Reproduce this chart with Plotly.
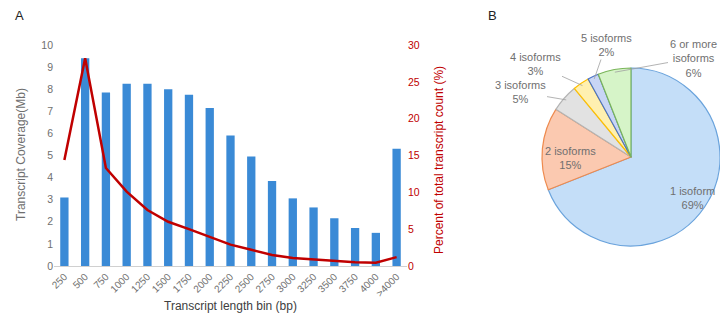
import math
import plotly.graph_objects as go

bins = ["250", "500", "750", "1000", "1250", "1500", "1750", "2000", "2250",
        "2500", "2750", "3000", "3250", "3500", "3750", "4000", ">4000"]
coverage_mb = [3.1, 9.4, 7.85, 8.25, 8.25, 8.0, 7.75, 7.15, 5.9,
               4.95, 3.85, 3.06, 2.65, 2.16, 1.72, 1.5, 5.3]
percent_count = [14.4, 28.2, 13.3, 10.1, 7.6, 6.0, 5.0, 3.9, 2.9,
                 2.2, 1.5, 1.1, 0.9, 0.65, 0.5, 0.45, 1.2]

iso_labels = ["1 isoform", "2 isoforms", "3 isoforms", "4 isoforms", "5 isoforms", "6 or more<br>isoforms"]
iso_values = [69, 15, 5, 3, 2, 6]
iso_fill = ["#c4def8", "#fbc9b0", "#e2e2e2", "#fff0b0", "#c8d5f5", "#d6f4c8"]
iso_line = ["#6aa3dc", "#ee8a4e", "#b4b4b4", "#ffc000", "#4a72c4", "#7ab55a"]

# page body has an 8px margin: work in window pixels and convert
OFF = 8
W, H = 728 - 2 * OFF, 321 - 2 * OFF


def px(x):
    return (x - OFF) / W


def py(y):
    return 1 - (y - OFF) / H


GRAY = "#6f6f6f"
RED = "#c00000"

fig = go.Figure()
fig.add_trace(go.Bar(x=bins, y=coverage_mb, marker=dict(color="#3a8ad6", line=dict(width=0)),
                     yaxis="y", showlegend=False))
fig.add_trace(go.Scatter(x=bins, y=percent_count, mode="lines", line=dict(color=RED, width=2.5),
                         yaxis="y2", showlegend=False))

# pie geometry in window pixels
cx, cy, r = 631, 157, 89
fig.add_trace(go.Pie(values=iso_values, labels=iso_labels, sort=False, direction="clockwise",
                     rotation=0, textinfo="none", hoverinfo="label+percent",
                     marker=dict(colors=iso_fill, line=dict(color=iso_line, width=1.2)),
                     domain=dict(x=[px(cx - r), min(1, px(cx + r))],
                                 y=[py(cy + r), py(cy - r)]),
                     showlegend=False))

fig.update_layout(
    width=W, height=H, margin=dict(l=0, r=0, t=0, b=0),
    paper_bgcolor="white", plot_bgcolor="white",
    font=dict(family="Liberation Sans, Arial, sans-serif", size=10, color=GRAY),
    bargap=0.6,
    xaxis=dict(domain=[px(54), px(407)], tickangle=-45, showline=True, linecolor="#d0d0d0",
               ticks="", showgrid=False, tickfont=dict(size=10, color=GRAY), automargin=False),
    yaxis=dict(domain=[py(266), py(45)], range=[0, 10], dtick=1, showgrid=False,
               zeroline=False, tickfont=dict(size=10.5, color=GRAY), automargin=False),
    yaxis2=dict(overlaying="y", side="right", range=[0, 30], dtick=5, showgrid=False,
                zeroline=False, tickfont=dict(size=10.5, color=RED), automargin=False),
)

ann = [
    dict(x=px(19), y=py(15), text="A", showarrow=False, font=dict(size=13, color="#222")),
    dict(x=px(492), y=py(15), text="B", showarrow=False, font=dict(size=13, color="#222")),
    dict(x=px(21), y=py(155), text="Transcript Coverage(Mb)", textangle=-90, showarrow=False,
         font=dict(size=12, color=GRAY)),
    dict(x=px(439), y=py(160), text="Percent of total transcript count (%)", textangle=-90,
         showarrow=False, font=dict(size=12, color=RED)),
    dict(x=px(230), y=py(306), text="Transcript length bin (bp)", showarrow=False,
         font=dict(size=12, color="#404040")),
]

# slice mid angles (clockwise from 12 o'clock)
total = sum(iso_values)
cum = 0
mids = []
for v in iso_values:
    mids.append((cum + v / 2) / total * 2 * math.pi)
    cum += v


def edge(i, f=0.97):
    a = mids[i]
    return cx + r * f * math.sin(a), cy - r * f * math.cos(a)


# outside labels with leader lines: text centre (window px)
outside = {2: (520, 92), 3: (535, 64), 4: (606, 45), 5: (693, 58)}
for i, (tx, ty) in outside.items():
    ex, ey = edge(i)
    pct = f"{round(iso_values[i] / total * 100)}%"
    ann.append(dict(x=px(ex), y=py(ey), text=f"{iso_labels[i]}<br>{pct}", showarrow=True,
                    arrowhead=0, arrowwidth=0.8, arrowcolor="#a0a0a0", ax=tx - ex, ay=ty - ey,
                    font=dict(size=11, color=GRAY)))

inside = {0: (692, 198), 1: (570, 158)}
for i, (tx, ty) in inside.items():
    pct = f"{round(iso_values[i] / total * 100)}%"
    ann.append(dict(x=px(tx), y=py(ty), text=f"{iso_labels[i]}<br>{pct}", showarrow=False,
                    font=dict(size=11, color=GRAY)))

for a in ann:
    a.setdefault("xref", "paper")
    a.setdefault("yref", "paper")
    a.setdefault("xanchor", "center")
    a.setdefault("yanchor", "middle")
fig.update_layout(annotations=ann)

fig.write_html("out.html")
